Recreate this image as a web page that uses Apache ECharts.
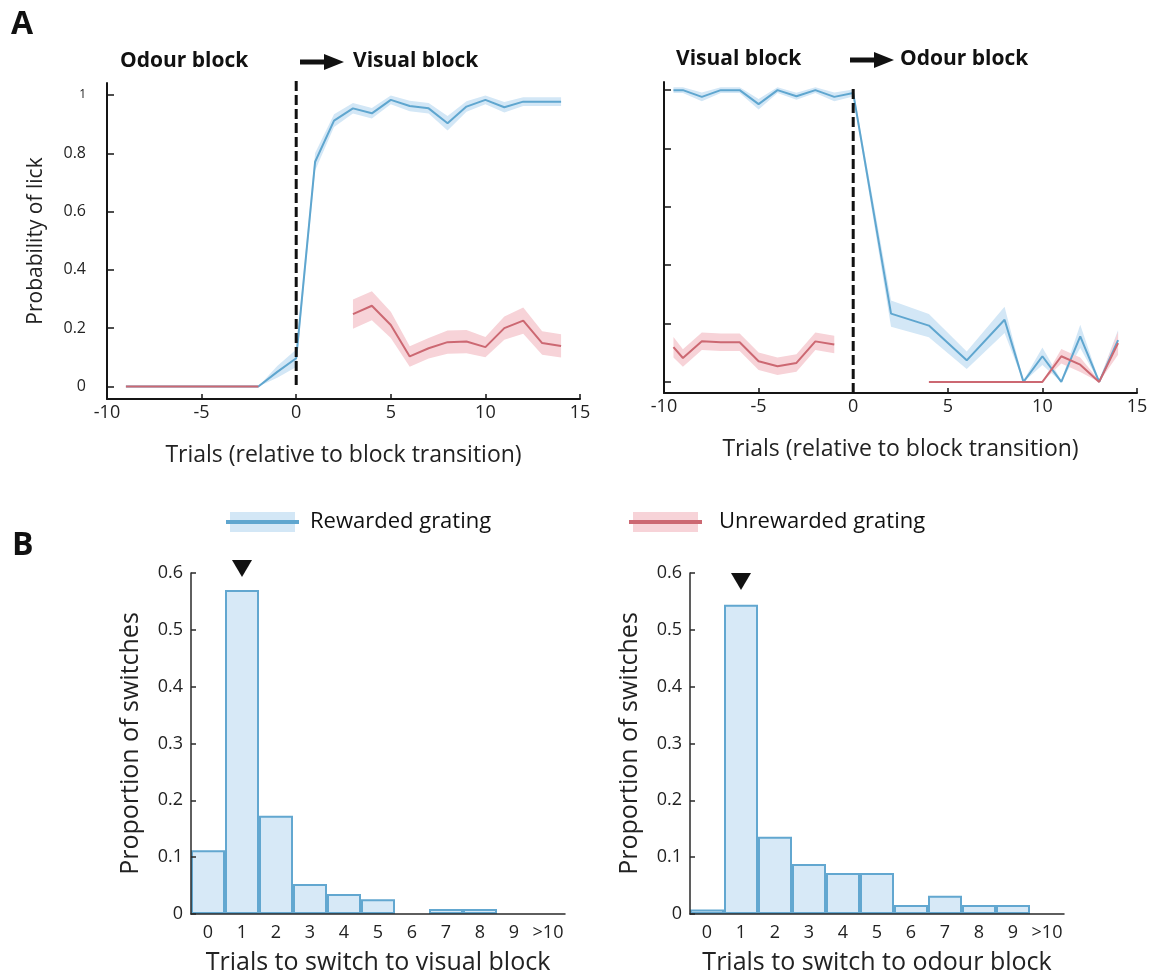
<!DOCTYPE html>
<html>
<head>
<meta charset="utf-8">
<title>Lick probability around block transitions</title>
<script src="https://cdn.jsdelivr.net/npm/echarts@6.0.0/dist/echarts.min.js"></script>
<style>
  html, body { margin: 0; padding: 0; background: #ffffff; }
  #chart { width: 1153px; height: 979px; }
</style>
</head>
<body>
<div id="chart"></div>
<script>
// ---------- Panel A, left: odour block -> visual block ----------
const leftRewardedTrials = [-9, -8, -7, -6, -5, -4, -3, -2, -1, 0, 1, 2, 3, 4, 5, 6, 7, 8, 9, 10, 11, 12, 13, 14];
const leftRewardedLick   = [0, 0, 0, 0, 0, 0, 0, 0, 0.05, 0.097, 0.771, 0.912, 0.954, 0.937, 0.983, 0.962, 0.954, 0.903, 0.96, 0.983, 0.958, 0.977, 0.977, 0.977];
const leftRewardedSem    = [0, 0, 0, 0, 0, 0, 0, 0, 0.02, 0.03, 0.03, 0.022, 0.018, 0.018, 0.015, 0.018, 0.018, 0.025, 0.018, 0.015, 0.018, 0.015, 0.015, 0.015];

const leftUnrewardedPreTrials  = [-9, -8, -7, -6, -5, -4, -3, -2];
const leftUnrewardedPreLick    = [0, 0, 0, 0, 0, 0, 0, 0];
const leftUnrewardedPostTrials = [3, 4, 5, 6, 7, 8, 9, 10, 11, 12, 13, 14];
const leftUnrewardedPostLick   = [0.248, 0.277, 0.211, 0.103, 0.131, 0.152, 0.154, 0.135, 0.2, 0.226, 0.149, 0.139];
const leftUnrewardedPostSem    = [0.05, 0.05, 0.045, 0.035, 0.035, 0.04, 0.04, 0.035, 0.04, 0.045, 0.04, 0.04];

// ---------- Panel A, right: visual block -> odour block ----------
const rightRewardedTrials = [-9.5, -9, -8, -7, -6, -5, -4, -3, -2, -1, 0, 2, 4, 6, 8, 9, 10, 11, 12, 13, 14];
const rightRewardedLick   = [1.0, 1.0, 0.977, 1.0, 1.0, 0.952, 1.0, 0.979, 1.0, 0.977, 0.99, 0.234, 0.193, 0.074, 0.213, 0, 0.088, 0, 0.156, 0, 0.143];
const rightRewardedSem    = [0.01, 0.01, 0.015, 0.01, 0.01, 0.018, 0.01, 0.012, 0.01, 0.015, 0.012, 0.045, 0.04, 0.03, 0.045, 0.005, 0.03, 0.005, 0.04, 0.005, 0.035];

const rightUnrewardedPreTrials  = [-9.5, -9, -8, -7, -6, -5, -4, -3, -2, -1];
const rightUnrewardedPreLick    = [0.119, 0.082, 0.139, 0.136, 0.136, 0.071, 0.054, 0.065, 0.139, 0.128];
const rightUnrewardedPreSem     = [0.035, 0.03, 0.03, 0.03, 0.03, 0.03, 0.03, 0.03, 0.03, 0.03];
const rightUnrewardedPostTrials = [4, 5, 6, 7, 8, 9, 10, 11, 12, 13, 14];
const rightUnrewardedPostLick   = [0, 0, 0, 0, 0, 0, 0, 0.088, 0.059, 0, 0.133];
const rightUnrewardedPostSem    = [0, 0, 0, 0, 0, 0, 0, 0.025, 0.025, 0.005, 0.04];

// block transition marker (trial 0) and its vertical extent in each panel
const transitionTrial = 0;
const leftTransitionSpan  = [0.005, 1.05];
const rightTransitionSpan = [-0.038, 1.017];

// ---------- Panel B: histograms of trials needed to switch ----------
const switchBins        = ['0', '1', '2', '3', '4', '5', '6', '7', '8', '9', '>10'];
const switchesToVisual  = [0.112, 0.57, 0.173, 0.053, 0.035, 0.026, 0, 0.009, 0.009, 0, 0];
const switchesToOdour   = [0.008, 0.544, 0.136, 0.088, 0.072, 0.072, 0.016, 0.032, 0.016, 0.016, 0];
const medianToVisual    = ['1', 0.608];
const medianToOdour     = ['1', 0.585];

const lickTicks = [0, 0.2, 0.4, 0.6, 0.8, 1];

// ---------- styling ----------
const FONT = '"Open Sans", "Noto Sans", sans-serif';
const INK = '#151515';
const BLUE = '#5fa6cf';
const BLUE_BAND = '#d3e7f6';
const RED = '#cc6872';
const RED_BAND = '#f7d3d8';
const BAR_FILL = '#d7e9f7';
const BAR_EDGE = '#62a7d0';

function pairs(xs, ys) { return xs.map((x, i) => [x, ys[i]]); }

// Shaded mean ± sem band drawn as one polygon through the axis scales
function bandSeries(xs, mean, sem, color, axis) {
  const rows = xs.map((x, i) => [x, Math.max(0, mean[i] - sem[i]), mean[i] + sem[i]]);
  return {
    type: 'custom', xAxisIndex: axis, yAxisIndex: axis, silent: true, z: 1,
    data: rows, encode: { x: 0, y: [1, 2] },
    renderItem: function (params, api) {
      if (params.dataIndex !== 0) return null;
      const upper = rows.map(r => api.coord([r[0], r[2]]));
      const lower = rows.map(r => api.coord([r[0], r[1]])).reverse();
      return { type: 'polygon', shape: { points: upper.concat(lower) }, style: { fill: color } };
    }
  };
}

function meanLine(xs, ys, color, axis, z) {
  return {
    type: 'line', xAxisIndex: axis, yAxisIndex: axis, data: pairs(xs, ys),
    symbol: 'none', lineStyle: { color: color, width: 2 }, z: z, silent: true
  };
}

function transitionLine(span, axis) {
  return {
    type: 'line', xAxisIndex: axis, yAxisIndex: axis, clip: false,
    data: [[transitionTrial, span[0]], [transitionTrial, span[1]]],
    symbol: 'none', lineStyle: { color: '#111', width: 3, type: [10, 4] }, z: 6, silent: true
  };
}

function histSeries(values, axis) {
  return {
    type: 'bar', xAxisIndex: axis, yAxisIndex: axis, barCategoryGap: '0%',
    data: values.map(v => v === 0 ? { value: 0, itemStyle: { borderWidth: 0 } } : v),
    itemStyle: { color: BAR_FILL, borderColor: BAR_EDGE, borderWidth: 2 },
    silent: true, z: 2
  };
}

function medianMarker(point, axis) {
  return {
    type: 'scatter', xAxisIndex: axis, yAxisIndex: axis, clip: false,
    data: [point], symbol: 'triangle', symbolRotate: 180, symbolSize: [20, 17],
    itemStyle: { color: '#111', opacity: 1 }, silent: true, z: 5
  };
}

const lickXAxis = (axis) => ({
  type: 'value', gridIndex: axis, min: -10, max: 15, interval: 5,
  axisLine: { onZero: false, lineStyle: { color: INK, width: 2 } },
  axisTick: { inside: true, length: 5, lineStyle: { color: INK, width: 1.5 } },
  axisLabel: { color: '#222', fontSize: 18, fontFamily: FONT, margin: 5 },
  splitLine: { show: false },
  name: 'Trials (relative to block transition)', nameLocation: 'middle', nameGap: 45,
  nameTextStyle: { color: '#222', fontSize: 23, fontFamily: FONT }
});

const lickYAxis = (axis, min, max, withLabels) => ({
  type: 'value', gridIndex: axis, min: min, max: max,
  axisLine: { show: true, onZero: false, lineStyle: { color: INK, width: 2 } },
  axisTick: { show: true, inside: true, length: 7, customValues: lickTicks, lineStyle: { color: INK, width: 1.5 } },
  axisLabel: {
    show: withLabels, customValues: lickTicks, color: '#222', fontSize: 16, fontFamily: FONT, margin: 21,
    formatter: v => v === 1 ? '{s|1}' : String(v),
    rich: { s: { fontSize: 12, fontFamily: FONT, color: '#222' } }
  },
  splitLine: { show: false },
  name: withLabels ? 'Probability of lick' : '', nameLocation: 'middle', nameGap: 60, nameRotate: 90,
  nameTextStyle: { color: '#222', fontSize: 21, fontFamily: FONT }
});

const switchXAxis = (axis, title) => ({
  type: 'category', gridIndex: axis, data: switchBins, boundaryGap: true, z: 10,
  axisLine: { onZero: false, lineStyle: { color: '#2a2a2a', width: 1.5 } },
  axisTick: { inside: true, length: 5, alignWithLabel: false, lineStyle: { color: '#2a2a2a', width: 1.5 } },
  axisLabel: { color: '#222', fontSize: 18, fontFamily: FONT, margin: 10, interval: 0 },
  splitLine: { show: false },
  name: title, nameLocation: 'middle', nameGap: 36,
  nameTextStyle: { color: '#222', fontSize: 25, fontFamily: FONT }
});

const switchYAxis = (axis) => ({
  type: 'value', gridIndex: axis, min: 0, max: 0.6, interval: 0.1, z: 10,
  axisLine: { show: true, onZero: false, lineStyle: { color: '#2a2a2a', width: 1.5 } },
  axisTick: { show: true, inside: true, length: 5, lineStyle: { color: '#2a2a2a', width: 1.5 } },
  axisLabel: { color: '#222', fontSize: 18, fontFamily: FONT, margin: 8, formatter: v => v === 0 ? '0' : v.toFixed(1) },
  splitLine: { show: false },
  name: 'Proportion of switches', nameLocation: 'middle', nameGap: 48, nameRotate: 90,
  nameTextStyle: { color: '#222', fontSize: 25, fontFamily: FONT }
});

// ---------- annotations: panel letters, block headings, legend ----------
function label(text, x, y, size, weight, align) {
  return {
    type: 'text', x: x, y: y, silent: true,
    style: { text: text, fill: '#111', font: `${weight} ${size}px ${FONT}`, align: align || 'left', verticalAlign: 'middle',
             textAlign: align || 'left', textVerticalAlign: 'middle' }
  };
}
function arrow(x0, x1, y) {
  return [
    { type: 'line', silent: true, shape: { x1: x0, y1: y, x2: x1 - 16, y2: y }, style: { stroke: '#111', lineWidth: 5 } },
    { type: 'polygon', silent: true, shape: { points: [[x1 - 20, y - 8], [x1, y], [x1 - 20, y + 8]] }, style: { fill: '#111' } }
  ];
}
function legendKey(x0, x1, y, line, bandColor, text, textX) {
  return [
    { type: 'rect', silent: true, shape: { x: x0 + 4, y: y - 10, width: x1 - x0 - 8, height: 20 }, style: { fill: bandColor } },
    { type: 'line', silent: true, shape: { x1: x0, y1: y, x2: x1, y2: y }, style: { stroke: line, lineWidth: 4 } },
    label(text, textX, y, 22, 'normal')
  ];
}

const graphics = [
  label('A', 11, 25, 32, 'bold'),
  label('B', 12, 546, 32, 'bold'),
  label('Odour block', 120, 61, 21, 'bold'),
  ...arrow(300, 344, 62),
  label('Visual block', 353, 61, 21, 'bold'),
  label('Visual block', 676, 59, 21, 'bold'),
  ...arrow(850, 894, 60),
  label('Odour block', 900, 59, 21, 'bold'),
  ...legendKey(226, 299, 522, BLUE, BLUE_BAND, 'Rewarded grating', 310),
  ...legendKey(629, 702, 522, RED, RED_BAND, 'Unrewarded grating', 719)
];

const option = {
  animation: false,
  backgroundColor: '#ffffff',
  textStyle: { fontFamily: FONT },
  grid: [
    { left: 107, top: 83, width: 473, height: 316, outerBoundsMode: 'none' },
    { left: 664, top: 82, width: 473, height: 311, outerBoundsMode: 'none' },
    { left: 191, top: 573, width: 374, height: 341, outerBoundsMode: 'none' },
    { left: 690, top: 573, width: 374, height: 341, outerBoundsMode: 'none' }
  ],
  xAxis: [
    lickXAxis(0), lickXAxis(1),
    switchXAxis(2, 'Trials to switch to visual block'),
    switchXAxis(3, 'Trials to switch to odour block')
  ],
  yAxis: [
    lickYAxis(0, -0.043, 1.041, true),
    lickYAxis(1, -0.038, 1.028, false),
    switchYAxis(2), switchYAxis(3)
  ],
  graphic: graphics,
  series: [
    // left lick panel
    bandSeries(leftRewardedTrials, leftRewardedLick, leftRewardedSem, BLUE_BAND, 0),
    bandSeries(leftUnrewardedPostTrials, leftUnrewardedPostLick, leftUnrewardedPostSem, RED_BAND, 0),
    meanLine(leftRewardedTrials, leftRewardedLick, BLUE, 0, 3),
    meanLine(leftUnrewardedPreTrials, leftUnrewardedPreLick, RED, 0, 4),
    meanLine(leftUnrewardedPostTrials, leftUnrewardedPostLick, RED, 0, 4),
    transitionLine(leftTransitionSpan, 0),
    // right lick panel
    bandSeries(rightRewardedTrials, rightRewardedLick, rightRewardedSem, BLUE_BAND, 1),
    bandSeries(rightUnrewardedPreTrials, rightUnrewardedPreLick, rightUnrewardedPreSem, RED_BAND, 1),
    bandSeries(rightUnrewardedPostTrials, rightUnrewardedPostLick, rightUnrewardedPostSem, RED_BAND, 1),
    meanLine(rightRewardedTrials, rightRewardedLick, BLUE, 1, 3),
    meanLine(rightUnrewardedPreTrials, rightUnrewardedPreLick, RED, 1, 4),
    meanLine(rightUnrewardedPostTrials, rightUnrewardedPostLick, RED, 1, 4),
    transitionLine(rightTransitionSpan, 1),
    // switch histograms
    histSeries(switchesToVisual, 2),
    medianMarker(medianToVisual, 2),
    histSeries(switchesToOdour, 3),
    medianMarker(medianToOdour, 3)
  ]
};

const chart = echarts.init(document.getElementById('chart'), null, { renderer: 'canvas' });
chart.setOption(option);
</script>
</body>
</html>
